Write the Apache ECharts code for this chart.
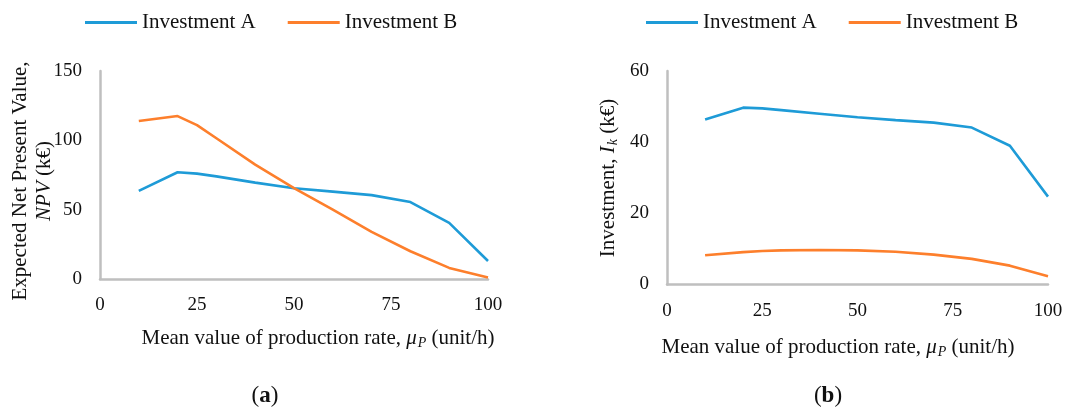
<!DOCTYPE html>
<html>
<head>
<meta charset="utf-8">
<script src="https://cdn.jsdelivr.net/npm/echarts@6/dist/echarts.min.js"></script>
<style>
  html, body { margin: 0; padding: 0; background: #ffffff; }
  #chart { width: 1067px; height: 410px; }
</style>
</head>
<body>
<div id="chart"></div>
<script>
// Mean value of production rate, μP (unit/h)
const muP = [10, 20, 25, 30, 40, 50, 60, 70, 80, 90, 100];

// (a) Expected net present value, NPV (k€)
const npvA = [63.5, 77, 76, 74, 69.5, 65.5, 63, 60.5, 55.5, 40.5, 13];
const npvB = [114, 117.5, 111, 101.5, 82.5, 65.5, 50, 34, 20, 8, 1];

// (b) Investment, Ik (k€)
const invA = [46.4, 49.7, 49.5, 49, 48, 47, 46.2, 45.5, 44.1, 39, 24.7];
const invB = [8.2, 9.1, 9.4, 9.6, 9.7, 9.6, 9.2, 8.4, 7.2, 5.3, 2.3];

const seriesNames = ['Investment A', 'Investment B'];

const SERIF = '"Liberation Serif", "Times New Roman", serif';
const BLUE = '#1e9bd7';
const ORANGE = '#fd7f2c';
const INK = '#111111';

function pairs(xs, ys) { return xs.map((x, i) => [x, ys[i]]); }

const axisLine = { show: true, lineStyle: { color: '#bfbfbf', width: 2.5 } };
const tickFont = { fontFamily: SERIF, fontSize: 19, color: INK };

function xAxis(gridIndex) {
  return {
    type: 'value', gridIndex, min: 0, max: 100, interval: 25,
    axisLine, axisTick: { show: false }, splitLine: { show: false },
    axisLabel: Object.assign({ margin: 17 }, tickFont)
  };
}
function yAxis(gridIndex, max, interval) {
  return {
    type: 'value', gridIndex, min: 0, max, interval,
    axisLine, axisTick: { show: false }, splitLine: { show: false },
    axisLabel: Object.assign({ margin: 18 }, tickFont)
  };
}
function line(name, xi, data, color) {
  return {
    name, type: 'line', xAxisIndex: xi, yAxisIndex: xi,
    data: pairs(muP, data), symbol: 'none', smooth: false,
    lineStyle: { color, width: 2.6 }, itemStyle: { color },
    emphasis: { disabled: true }
  };
}
function legend(left) {
  return {
    data: seriesNames, left, top: 7, icon: 'rect',
    itemWidth: 52, itemHeight: 3, itemGap: 32,
    textStyle: { fontFamily: SERIF, fontSize: 21, color: INK }
  };
}

const rich = {
  i: { fontFamily: SERIF, fontSize: 21, fontStyle: 'italic', fill: INK },
  sub: { fontFamily: SERIF, fontSize: 14, fontStyle: 'italic', fill: INK, verticalAlign: 'bottom', padding: [0, 0, 0, 1] },
  b: { fontFamily: SERIF, fontSize: 23, fontWeight: 'bold', fill: INK },
  p: { fontFamily: SERIF, fontSize: 23, fill: INK }
};
function label(x, y, text, rotation) {
  return {
    type: 'text', x, y, rotation: rotation || 0, silent: true,
    style: {
      text, fontFamily: SERIF, fontSize: 21, fill: INK,
      align: 'center', verticalAlign: 'middle', lineHeight: 24, rich
    }
  };
}

const option = {
  backgroundColor: '#ffffff',
  animation: false,
  legend: [legend(80), legend(641)],
  grid: [
    { left: 100, top: 71, width: 388, height: 208 },
    { left: 667, top: 71, width: 381, height: 213.5 }
  ],
  xAxis: [xAxis(0), xAxis(1)],
  yAxis: [yAxis(0, 150, 50), yAxis(1, 60, 20)],
  series: [
    line('Investment A', 0, npvA, BLUE),
    line('Investment B', 0, npvB, ORANGE),
    line('Investment A', 1, invA, BLUE),
    line('Investment B', 1, invB, ORANGE)
  ],
  graphic: [
    label(318, 338, 'Mean value of production rate, {i|μ}{sub|P} (unit/h)'),
    label(838, 347, 'Mean value of production rate, {i|μ}{sub|P} (unit/h)'),
    label(32, 181, 'Expected Net Present Value,\n{i|NPV} (k€)', Math.PI / 2),
    label(608, 178, 'Investment, {i|I}{sub|k} (k€)', Math.PI / 2),
    label(265, 396, '{p|(}{b|a}{p|)}'),
    label(828, 396, '{p|(}{b|b}{p|)}')
  ]
};

const chart = echarts.init(document.getElementById('chart'), null, { renderer: 'canvas' });
chart.setOption(option);
</script>
</body>
</html>
